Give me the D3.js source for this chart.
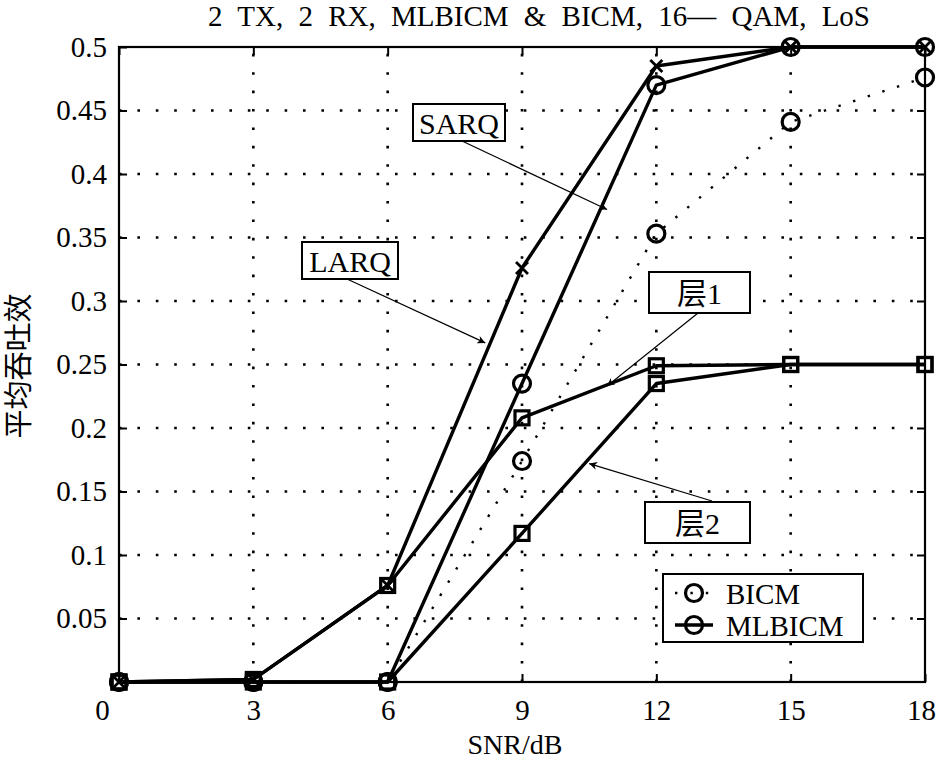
<!DOCTYPE html>
<html>
<head>
<meta charset="utf-8">
<script src="https://cdn.jsdelivr.net/npm/d3@7/dist/d3.min.js"></script>
<style>
  html, body { margin: 0; padding: 0; background: #fff; }
  svg { display: block; }
  text { font-family: "Liberation Serif", "Times New Roman", "Noto Sans CJK SC", serif; fill: #000; }
</style>
</head>
<body>
<svg id="chart" width="938" height="761"></svg>
<script>
// ---- data ----
const snr = [0, 3, 6, 9, 12, 15, 18];
const bicm   = [0, 0, 0, 0.174, 0.353, 0.441, 0.476];
const sarq   = [0, 0, 0, 0.235, 0.470, 0.5, 0.5];
const larq   = [0, 0.002, 0.076, 0.326, 0.485, 0.5, 0.5];
const layer1 = [0, 0.002, 0.076, 0.208, 0.249, 0.25, 0.25];
const layer2 = [0, 0, 0, 0.117, 0.235, 0.25, 0.25];
const xTicks = [0, 3, 6, 9, 12, 15, 18];
const yTicks = [0.05, 0.1, 0.15, 0.2, 0.25, 0.3, 0.35, 0.4, 0.45, 0.5];
const yTickLabels = ["0.05", "0.1", "0.15", "0.2", "0.25", "0.3", "0.35", "0.4", "0.45", "0.5"];
const title = "2 TX, 2 RX, MLBICM & BICM, 16\u2014 QAM, LoS";
const xLabel = "SNR/dB";
const yLabel = "平均吞吐效";
const legendLabels = ["BICM", "MLBICM"];
// annotations: label, anchor point on curve (data coords)
const annotations = [
  { label: "SARQ", box: [413, 104, 92, 37], from: [462, 141], at: [10.9, 0.372] },
  { label: "LARQ", box: [302, 242, 96, 37], from: [347, 279], at: [8.18, 0.267] },
  { label: "层1",  box: [649, 272, 101, 41], from: [698, 313], at: [10.9, 0.233] },
  { label: "层2",  box: [645, 502, 105, 41], from: [712, 501], at: [10.5, 0.172] }
];

const svg = d3.select("#chart");
const x = d3.scaleLinear().domain([0, 18]).range([119, 925]);
const y = d3.scaleLinear().domain([0, 0.5]).range([682, 47]);

// defs: arrow
svg.append("defs").append("marker")
  .attr("id", "arrow").attr("viewBox", "0 0 10 10")
  .attr("refX", 10).attr("refY", 5)
  .attr("markerWidth", 11).attr("markerHeight", 8)
  .attr("markerUnits", "userSpaceOnUse")
  .attr("orient", "auto")
  .append("path").attr("d", "M0,0 L10,5 L0,10 L3,5 Z").attr("fill", "#000");

// grid
const grid = svg.append("g");
grid.selectAll(".vg").data(xTicks.filter(d => d > 0 && d < 18)).enter().append("line")
  .attr("x1", d => x(d)).attr("x2", d => x(d)).attr("y1", y(0)).attr("y2", y(0.5))
  .attr("stroke", "#000").attr("stroke-width", 2.6).attr("stroke-dasharray", "2.6 15.8");
grid.selectAll(".hg").data(yTicks.filter(d => d < 0.5)).enter().append("line")
  .attr("x1", x(0)).attr("x2", x(18)).attr("y1", d => y(d)).attr("y2", d => y(d))
  .attr("stroke", "#000").attr("stroke-width", 2.6).attr("stroke-dasharray", "2.6 15.8");

// axes (ticks inward)
const fmt = d => yTickLabels[yTicks.indexOf(d)];
const fontSize = 29;
const gB = svg.append("g").attr("transform", `translate(0,${y(0)})`)
  .call(d3.axisBottom(x).tickValues(xTicks).tickSizeInner(-8).tickSizeOuter(0).tickPadding(17).tickFormat(d3.format("d")));
gB.selectAll("text").filter(d => d === 0).attr("dx", -17);
gB.selectAll("text").filter(d => d === 18).attr("dx", -4);
const gT = svg.append("g").attr("transform", `translate(0,${y(0.5)})`)
  .call(d3.axisTop(x).tickValues(xTicks).tickSizeInner(-8).tickSizeOuter(0).tickFormat(""));
const gL = svg.append("g").attr("transform", `translate(${x(0)},0)`)
  .call(d3.axisLeft(y).tickValues(yTicks).tickSizeInner(-8).tickSizeOuter(0).tickPadding(12).tickFormat(fmt));
const gR = svg.append("g").attr("transform", `translate(${x(18)},0)`)
  .call(d3.axisRight(y).tickValues(yTicks).tickSizeInner(-8).tickSizeOuter(0).tickFormat(""));
[gB, gT, gL, gR].forEach(g => {
  g.select(".domain").remove();
  g.selectAll(".tick line").attr("stroke", "#000").attr("stroke-width", 2);
  g.selectAll("text").attr("font-size", fontSize).attr("font-family", "Liberation Serif, Times New Roman, serif").attr("fill", "#000");
});

// series lines
const line = d3.line().x((d, i) => x(snr[i])).y(d => y(d));
const series = [
  { data: bicm,   dash: "2.4 13", width: 2.4, marker: "circle" },
  { data: layer2, dash: null, width: 3.4, marker: "square" },
  { data: layer1, dash: null, width: 3.4, marker: "square" },
  { data: sarq,   dash: null, width: 3.4, marker: "circle" },
  { data: larq,   dash: null, width: 3.4, marker: "x" }
];
const gS = svg.append("g");
series.forEach(s => {
  gS.append("path").datum(s.data).attr("d", line)
    .attr("fill", "none").attr("stroke", "#000").attr("stroke-width", s.width)
    .attr("stroke-linejoin", "round")
    .attr("stroke-dasharray", s.dash);
});
function drawMarker(g, type, cx, cy) {
  if (type === "circle") {
    g.append("circle").attr("cx", cx).attr("cy", cy).attr("r", 8.5)
      .attr("fill", "none").attr("stroke", "#000").attr("stroke-width", 3.2);
  } else if (type === "square") {
    g.append("rect").attr("x", cx - 7).attr("y", cy - 7).attr("width", 14).attr("height", 14)
      .attr("fill", "none").attr("stroke", "#000").attr("stroke-width", 3.2);
  } else if (type === "x") {
    g.append("path").attr("d", `M${cx - 6},${cy - 6}L${cx + 6},${cy + 6}M${cx - 6},${cy + 6}L${cx + 6},${cy - 6}`)
      .attr("stroke", "#000").attr("stroke-width", 2.8);
  }
}
series.forEach(s => {
  s.data.forEach((v, i) => drawMarker(gS, s.marker, x(snr[i]), y(v)));
});

// plot box
svg.append("rect").attr("x", x(0)).attr("y", y(0.5))
  .attr("width", x(18) - x(0)).attr("height", y(0) - y(0.5))
  .attr("fill", "none").attr("stroke", "#000").attr("stroke-width", 2.2);

// annotations
const gA = svg.append("g");
annotations.forEach(a => {
  const [bx, by, bw, bh] = a.box;
  gA.append("line").attr("x1", a.from[0]).attr("y1", a.from[1])
    .attr("x2", x(a.at[0])).attr("y2", y(a.at[1]))
    .attr("stroke", "#000").attr("stroke-width", 1.2).attr("marker-end", "url(#arrow)");
  gA.append("rect").attr("x", bx).attr("y", by).attr("width", bw).attr("height", bh)
    .attr("fill", "#fff").attr("stroke", "#000").attr("stroke-width", 2);
  gA.append("text").attr("x", bx + bw / 2).attr("y", by + bh / 2 + 1)
    .attr("text-anchor", "middle").attr("dominant-baseline", "central")
    .attr("font-size", 30).text(a.label);
});

// legend
const gLeg = svg.append("g");
gLeg.append("rect").attr("x", 663).attr("y", 574).attr("width", 200).attr("height", 68)
  .attr("fill", "#fff").attr("stroke", "#000").attr("stroke-width", 2);
legendLabels.forEach((lab, i) => {
  const ly = 593 + i * 32;
  gLeg.append("line").attr("x1", 675).attr("x2", 713).attr("y1", ly).attr("y2", ly)
    .attr("stroke", "#000").attr("stroke-width", i === 0 ? 2.4 : 3.4)
    .attr("stroke-dasharray", i === 0 ? "2.4 13" : null);
  drawMarker(gLeg, "circle", 694, ly);
  gLeg.append("text").attr("x", 726).attr("y", ly + 1).attr("dominant-baseline", "central")
    .attr("font-size", 29).text(lab);
});

// title and axis labels
svg.append("text").attr("x", 208).attr("y", 26).attr("font-size", 29)
  .attr("word-spacing", 8).text(title);
svg.append("text").attr("x", 515).attr("y", 754).attr("text-anchor", "middle")
  .attr("font-size", 28).text(xLabel);
svg.append("text").attr("transform", "translate(19,366) rotate(-90)")
  .attr("text-anchor", "middle").attr("dominant-baseline", "central")
  .attr("font-family", "Noto Sans CJK SC, sans-serif")
  .attr("font-size", 29).text(yLabel);
</script>
</body>
</html>
